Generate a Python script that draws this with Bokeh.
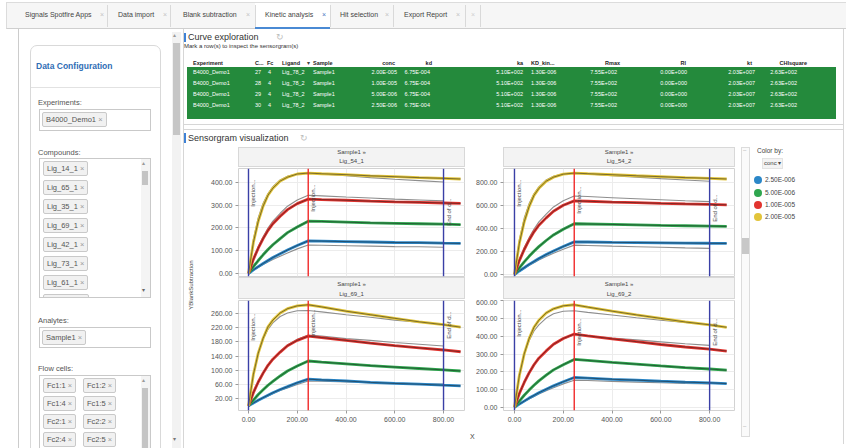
from math import pi
from bokeh.plotting import figure
from bokeh.layouts import row, column
from bokeh.models import Div, Span, Label, NumeralTickFormatter, FixedTicker, Range1d
from bokeh.embed import file_html
from bokeh.resources import INLINE

FONT = "Liberation Sans"

# ---------------- data ----------------
tab_names = ["Signals Spotfire Apps", "Data import", "Blank subtraction", "Kinetic analysis", "Hit selection", "Export Report"]
experiments = ["B4000_Demo1"]
compounds = ["Lig_14_1", "Lig_65_1", "Lig_35_1", "Lig_69_1", "Lig_42_1", "Lig_73_1", "Lig_61_1"]
analytes = ["Sample1"]
flow_cells = ["Fc1:1", "Fc1:2", "Fc1:4", "Fc1:5", "Fc2:1", "Fc2:2", "Fc2:4", "Fc2:5"]

table_experiment = ["B4000_Demo1", "B4000_Demo1", "B4000_Demo1", "B4000_Demo1"]
table_c = ["27", "28", "29", "30"]
table_fc = ["4", "4", "4", "4"]
table_ligand = ["Lig_78_2", "Lig_78_2", "Lig_78_2", "Lig_78_2"]
table_sample = ["Sample1", "Sample1", "Sample1", "Sample1"]
table_conc = ["2.00E-005", "1.00E-005", "5.00E-006", "2.50E-006"]
table_kd = ["6.75E-004"] * 4
table_ka = ["5.10E+002"] * 4
table_KD = ["1.30E-006"] * 4
table_rmax = ["7.55E+002"] * 4
table_rl = ["0.00E+000"] * 4
table_kt = ["2.03E+007"] * 4
table_chi = ["2.63E+002"] * 4

conc_labels = ["2.50E-006", "5.00E-006", "1.00E-005", "2.00E-005"]
conc_colors = ["#2b87c8", "#2fa64f", "#e2342f", "#e2c43a"]
panel_sample = "Sample1"
panel_ligands = ["Lig_54_1", "Lig_54_2", "Lig_69_1", "Lig_69_2"]

injection_start = 0
injection_end = 245
dissociation_end = 800
x_ticks = [0, 200, 400, 600, 800]

time_s = [0, 20, 40, 60, 80, 100, 130, 160, 200, 245, 300, 400, 500, 600, 700, 800, 870]

# responses (blue, green, red, yellow) and fitted curves (to 800 s)
lig54_1_resp = [
    [0, 16, 30, 44, 57, 70, 87, 103, 123, 143, 142, 140, 138, 136, 135, 133, 132],
    [0, 30, 57, 82, 105, 126, 153, 179, 204, 229, 228, 225, 222, 220, 218, 216, 214],
    [0, 62, 111, 153, 189, 218, 251, 280, 306, 326, 324, 321, 317, 314, 312, 309, 307],
    [0, 136, 229, 295, 343, 374, 405, 422, 436, 440, 437, 433, 428, 424, 420, 417, 414],
]
lig54_1_fit = [
    [0, 14, 26, 39, 50, 61, 76, 90, 108, 125, 124, 122, 120, 118, 117, 115],
    [0, 30, 58, 83, 106, 127, 155, 180, 206, 231, 229, 226, 223, 220, 217, 215],
    [0, 65, 117, 161, 199, 230, 264, 295, 322, 343, 340, 335, 331, 326, 322, 318],
    [0, 150, 245, 308, 350, 380, 410, 426, 437, 440, 436, 428, 420, 413, 407, 401],
]
lig54_2_resp = [
    [0, 31, 59, 88, 113, 139, 173, 204, 243, 283, 282, 279, 277, 275, 273, 271, 270],
    [0, 57, 110, 158, 202, 242, 295, 343, 392, 440, 438, 434, 430, 426, 423, 420, 417],
    [0, 121, 217, 300, 370, 427, 491, 549, 600, 638, 635, 628, 623, 617, 612, 608, 604],
    [0, 272, 457, 589, 686, 747, 809, 844, 870, 879, 874, 865, 856, 848, 840, 834, 828],
]
lig54_2_fit = [
    [0, 28, 54, 79, 102, 125, 156, 184, 219, 255, 252, 246, 241, 236, 231, 227],
    [0, 58, 111, 160, 205, 245, 298, 347, 396, 445, 442, 437, 432, 427, 422, 418],
    [0, 129, 232, 320, 395, 456, 524, 586, 640, 681, 676, 666, 657, 648, 639, 632],
    [0, 300, 490, 615, 700, 760, 820, 852, 874, 879, 871, 857, 844, 831, 819, 808],
]
lig69_1_resp = [
    [0, 8, 16, 23, 30, 37, 46, 54, 65, 75, 73, 70, 66, 63, 61, 58, 56],
    [0, 16, 32, 45, 58, 69, 84, 98, 112, 126, 123, 118, 113, 109, 105, 101, 98],
    [0, 37, 67, 92, 114, 131, 151, 169, 184, 196, 192, 184, 176, 169, 163, 157, 152],
    [0, 88, 148, 190, 222, 241, 261, 273, 281, 284, 278, 266, 256, 246, 236, 228, 221],
]
lig69_1_fit = [
    [0, 8, 15, 22, 28, 34, 43, 50, 60, 70, 69, 67, 65, 64, 62, 61],
    [0, 17, 32, 46, 58, 70, 85, 99, 113, 127, 124, 119, 114, 109, 104, 100],
    [0, 38, 68, 94, 115, 133, 153, 171, 187, 199, 196, 189, 184, 178, 173, 168],
    [0, 92, 150, 188, 215, 233, 251, 261, 267, 268, 264, 256, 249, 241, 235, 229],
]
lig69_2_resp = [
    [0, 18, 35, 52, 67, 82, 102, 121, 144, 168, 165, 158, 153, 147, 142, 138, 134],
    [0, 35, 68, 97, 124, 149, 181, 211, 240, 270, 264, 253, 243, 233, 224, 216, 209],
    [0, 78, 140, 194, 240, 277, 318, 355, 388, 413, 403, 386, 370, 354, 340, 328, 317],
    [0, 179, 301, 387, 451, 491, 532, 555, 572, 578, 565, 542, 521, 501, 481, 465, 451],
]
lig69_2_fit = [
    [0, 17, 32, 47, 61, 75, 93, 110, 132, 153, 151, 146, 142, 138, 134, 131],
    [0, 35, 68, 98, 125, 150, 182, 212, 242, 272, 265, 253, 242, 231, 222, 212],
    [0, 78, 139, 193, 238, 275, 316, 353, 385, 410, 403, 391, 380, 369, 358, 349],
    [0, 185, 300, 375, 430, 465, 503, 527, 541, 544, 535, 520, 505, 491, 478, 466],
]
lig54_1_yticks = [0, 100, 200, 300, 400]
lig54_2_yticks = [0, 200, 400, 600, 800]
lig69_1_yticks = [20, 60, 100, 140, 180, 220, 260]
lig69_2_yticks = [0, 100, 200, 300, 400, 500, 600]


# ---------------- html helpers ----------------
def B(x, y, w, h, style):
    return (f'<div style="position:absolute;left:{x}px;top:{y}px;width:{w}px;height:{h}px;'
            f'box-sizing:border-box;{style}"></div>')


def T(x, cy, s, size, color="#333", weight="normal", align="left", extra=""):
    if align == "left":
        pos = f"left:{x}px;"
    elif align == "right":
        pos = f"left:{x - 150}px;width:150px;text-align:right;"
    else:
        pos = f"left:{x - 75}px;width:150px;text-align:center;"
    return (f'<div style="position:absolute;{pos}top:{cy - size * 0.6:.1f}px;font-size:{size}px;'
            f'line-height:{size * 1.2:.1f}px;color:{color};font-weight:{weight};white-space:nowrap;{extra}">{s}</div>')


def chip(x, y, s, size=7.5):
    return (f'<div style="position:absolute;left:{x}px;top:{y}px;height:15px;box-sizing:border-box;padding:0 3px;'
            f'border:1px solid #c9c9c9;border-radius:2px;background:#f1f1f1;font-size:{size}px;line-height:13px;'
            f'color:#555;white-space:nowrap">{s} <span style="color:#9a9a9a">&#215;</span></div>')


def wrap(w, h, inner, bg="#ffffff"):
    return (f'<div style="position:relative;width:{w}px;height:{h}px;overflow:hidden;background:{bg};'
            f"font-family:'Liberation Sans',Arial,sans-serif\">{inner}</div>")


def make_div(w, h, parts, bg="#ffffff"):
    return Div(text=wrap(w, h, "".join(parts), bg), width=w, height=h, margin=0)


# ---------------- tab bar (846 x 29) ----------------
tp = [B(6, 2, 840, 27, "background:#f6f6f6;border-top:1px solid #dcdcdc;border-left:1px solid #dcdcdc;"
                       "border-bottom:1px solid #cfcfcf"),
      B(255, 3, 75, 26, "background:#ffffff;border-bottom:2px solid #4a8ad4")]
tab_text_x = [25, 118, 183, 265, 340, 404]
tab_close_x = [100, 163, 246, 322, 385, 456]
for sx in [107, 170, 255, 330, 393, 465, 480]:
    tp.append(B(sx, 5, 1, 22, "background:#d9d9d9"))
for i, name in enumerate(tab_names):
    tp.append(T(tab_text_x[i], 15, name, 7, "#444"))
    tp.append(T(tab_close_x[i], 15, "&#215;", 7, "#4a78c2" if i == 3 else "#c4c4c4"))
tp.append(T(471, 15, "&#215;", 7, "#d0d0d0"))
tabs_div = make_div(846, 29, tp)

# ---------------- left configuration panel (183 x 419) ----------------
lp = [B(18, 0, 1, 419, "background:#cccccc"),
      B(30, 16, 131, 430, "border:1px solid #d9d9d9;border-radius:7px 7px 0 0"),
      T(36, 37, "Data Configuration", 8.5, "#2f6db5", "bold"),
      B(31, 58, 129, 1, "background:#e2e2e2"),
      T(38, 73, "Experiments:", 7.5, "#555"),
      B(39, 80, 112, 22, "border:1px solid #c9c9c9"),
      chip(42, 83, experiments[0]),
      T(38, 123, "Compounds:", 7.5, "#555")]
comp_inner = "".join(chip(3, 2 + 19 * i, c) for i, c in enumerate(compounds))
comp_inner += B(3, 2 + 19 * 7, 46, 15, "border:1px solid #c9c9c9;border-radius:2px;background:#f1f1f1")
comp_inner += B(101, 0, 9, 138, "background:#f4f4f4")
comp_inner += T(102, 5, "&#9652;", 6, "#999")
comp_inner += B(102, 12, 6, 14, "background:#c4c4c4")
comp_inner += T(102, 132, "&#9662;", 6, "#666")
lp.append('<div style="position:absolute;left:39px;top:129px;width:112px;height:140px;border:1px solid #c9c9c9;'
          f'box-sizing:border-box;overflow:hidden">{comp_inner}</div>')
lp.append(T(38, 291, "Analytes:", 7.5, "#555"))
lp.append(B(39, 298, 112, 21, "border:1px solid #c9c9c9"))
lp.append(chip(42, 301, analytes[0]))
lp.append(T(38, 339, "Flow cells:", 7.5, "#555"))
fc_inner = "".join(chip(3 + 40 * (i % 2), 2 + 18 * (i // 2), f) for i, f in enumerate(flow_cells))
fc_inner += B(101, 0, 9, 80, "background:#f4f4f4")
fc_inner += T(102, 5, "&#9652;", 6, "#999")
fc_inner += B(102, 12, 6, 70, "background:#c4c4c4")
lp.append('<div style="position:absolute;left:39px;top:346px;width:112px;height:80px;border:1px solid #c9c9c9;'
          f'box-sizing:border-box;overflow:hidden">{fc_inner}</div>')
lp.append(B(172, 3, 9, 416, "background:#f2f2f2"))
lp.append(T(173, 7, "&#9652;", 6, "#999"))
lp.append(B(173, 14, 7, 92, "background:#c6c6c6"))
lp.append(T(173, 411, "&#9662;", 6, "#777"))
left_div = make_div(183, 419, lp)

# ---------------- curve exploration table (663 x 101) ----------------
cp = [B(0, 0, 1, 101, "background:#d6d6d6"),
      B(660, 0, 1, 101, "background:#d6d6d6"),
      B(0, 95, 661, 1, "background:#d6d6d6"),
      B(0, 100, 661, 1, "background:#d6d6d6"),
      B(1, 4, 2, 9, "background:#3f82d6"),
      T(5, 8, "Curve exploration", 9, "#333"),
      T(93, 8, "&#8635;", 9, "#bdbdbd"),
      T(1, 18, "Mark a row(s) to inspect the sensorgram(s)", 6, "#333")]
# (header, values, header x, header align, value x, value align)
table_cols = [
    ("Experiment", table_experiment, 10, "left", 10, "left"),
    ("C...", table_c, 72, "left", 78, "right"),
    ("Fc", table_fc, 84, "left", 85, "left"),
    ("Ligand", table_ligand, 99, "left", 99, "left"),
    ("Sample", table_sample, 130, "left", 130, "left"),
    ("conc", table_conc, 212, "right", 214, "right"),
    ("kd", table_kd, 249, "right", 247, "right"),
    ("ka", table_ka, 340, "right", 340, "right"),
    ("KD_kin...", table_KD, 348, "left", 348, "left"),
    ("Rmax", table_rmax, 437, "right", 434, "right"),
    ("Rl", table_rl, 503, "right", 504, "right"),
    ("kt", table_kt, 569, "right", 572, "right"),
    ("CHIsquare", table_chi, 624, "right", 614, "right"),
]
for hdr, vals, hx, ha, vx, va in table_cols:
    cp.append(T(hx, 34, hdr, 5.5, "#222", "bold", ha))
cp.append(T(124, 34, "&#9662;", 5.5, "#444"))
rows_html = ""
for hdr, vals, hx, ha, vx, va in table_cols:
    for r, v in enumerate(vals):
        rows_html += T(vx - 4, 5.5 + 11 * r, v, 5.5, "#ffffff", "normal", va)
cp.append('<div style="position:absolute;left:4px;top:38px;width:649px;height:52px;background:#248a3c;'
          f'overflow:hidden">{rows_html}</div>')
table_div = make_div(663, 101, cp)

# ---------------- sensorgram header (663 x 17) ----------------
sp = [B(0, 0, 1, 17, "background:#d6d6d6"),
      B(660, 0, 1, 17, "background:#d6d6d6"),
      B(1, 3, 2, 10, "background:#3f82d6"),
      T(5, 8, "Sensorgram visualization", 9, "#333"),
      T(117, 8, "&#8635;", 9, "#bdbdbd")]
sens_div = make_div(663, 17, sp)

# ---------------- y label gutter (15 x 301) ----------------
yl = [B(0, 0, 1, 301, "background:#d6d6d6"),
      '<div style="position:absolute;left:8px;top:138px;transform:translate(-50%,-50%) rotate(-90deg);'
      'white-space:nowrap;font-size:6px;color:#444">YBlankSubtraction</div>']
ylab_div = make_div(15, 301, yl)

# ---------------- legend (111 x 301) ----------------
gp = [B(6, 0, 9, 290, "border:1px solid #dcdcdc;background:#fafafa"),
      T(8, 4, "&#8211;", 6, "#aaa"),
      B(7, 91, 7, 16, "background:#c8c8c8"),
      T(8, 280, "&#8211;", 6, "#aaa"),
      B(108, 0, 1, 297, "background:#d6d6d6"),
      T(22, 4, "Color by:", 6.5, "#444"),
      B(27, 11, 21, 11, "background:#f3f3f3;border:1px solid #e3e3e3"),
      T(29, 16.5, "conc &#9662;", 6, "#444")]
legend_y = [33, 46, 58, 70]
for k, lab in enumerate(conc_labels):
    gp.append(f'<div style="position:absolute;left:19px;top:{legend_y[k] - 4}px;width:8px;height:8px;'
              f'border-radius:50%;background:{conc_colors[k]}"></div>')
    gp.append(T(30, legend_y[k], lab, 6.5, "#444"))
legend_div = make_div(111, 301, gp)


# ---------------- strips ----------------
def strip_div(width, offset, height, ligand, c1, c2):
    parts = [B(offset, 0, width - offset, height, "border:1px solid #d8d8d8;background:#f3f3f3"),
             T(offset + (width - offset) / 2, c1, f"{panel_sample} &#187;", 6, "#444", "normal", "center"),
             T(offset + (width - offset) / 2, c2, ligand, 6, "#444", "normal", "center")]
    return make_div(width, height, parts)


# ---------------- sensorgram panels ----------------
def sensor_panel(resp, fit, y_range, y_ticks, x_range, width, height, left_border, show_x, drops):
    p = figure(width=width, height=height, x_range=Range1d(*x_range), y_range=Range1d(*y_range),
               output_backend="svg", toolbar_location=None,
               min_border_left=left_border, min_border_right=1, min_border_top=1,
               min_border_bottom=20 if show_x else 1)
    p.outline_line_color = "#d2d2d2"
    p.border_fill_color = "#ffffff"
    p.xaxis.ticker = FixedTicker(ticks=x_ticks)
    p.yaxis.ticker = FixedTicker(ticks=y_ticks)
    p.xgrid.ticker = FixedTicker(ticks=x_ticks)
    p.ygrid.ticker = FixedTicker(ticks=y_ticks)
    p.grid.grid_line_color = "#ececec"
    for ax in p.axis:
        ax.axis_line_color = None
        ax.major_tick_line_color = "#9a9a9a"
        ax.major_tick_out = 3
        ax.major_tick_in = 0
        ax.minor_tick_line_color = None
        ax.major_label_text_font_size = "7px"
        ax.major_label_text_color = "#555555"
        ax.major_label_text_font = FONT
        ax.major_label_standoff = 3
        ax.formatter = NumeralTickFormatter(format="0.00")
    if not show_x:
        p.xaxis.visible = False
    for k in range(4):
        p.line(time_s[:len(fit[k])], fit[k], line_color="#8e8e8e", line_width=1.1)
    for k in range(4):
        p.line(time_s, resp[k], line_color=conc_colors[k], line_width=2.8)
        p.line(time_s, resp[k], line_color="#1b1b1b", line_width=0.7, line_alpha=0.75)
    for loc, col in [(injection_start, "#3a3fa6"), (injection_end, "#f02a2a"), (dissociation_end, "#3a3fa6")]:
        p.add_layout(Span(location=loc, dimension="height", line_color=col, line_width=1.4))
    for (loc, txt), d in zip([(injection_start, "Injection..."), (injection_end, "Injection..."),
                              (dissociation_end, "End of d...")], drops):
        p.add_layout(Label(x=loc, y=y_range[1], x_offset=2, y_offset=-d, angle=pi / 2, text=txt,
                           text_align="right", text_baseline="top", text_font_size="6px",
                           text_color="#444444", text_font=FONT))
    return p


left_x = (-41, 886)
right_x = (-45, 902)
p_tl = sensor_panel(lig54_1_resp, lig54_1_fit, (-13, 460), lig54_1_yticks, left_x, 267, 110, 40, False, (11, 16, 30))
p_tr = sensor_panel(lig54_2_resp, lig54_2_fit, (-17, 919), lig54_2_yticks, right_x, 270, 110, 38, False, (11, 18, 26))
p_bl = sensor_panel(lig69_1_resp, lig69_1_fit, (-13, 296), lig69_1_yticks, left_x, 267, 131, 40, True, (13, 9, 11))
p_br = sensor_panel(lig69_2_resp, lig69_2_fit, (-18, 602), lig69_2_yticks, right_x, 270, 131, 38, True, (9, 18, 18))

x_div = make_div(537, 18, [T(272, 7, "X", 7, "#444")])

charts_col = column(
    row(strip_div(267, 40, 20, panel_ligands[0], 6, 15), strip_div(270, 38, 20, panel_ligands[1], 6, 15)),
    row(p_tl, p_tr),
    row(strip_div(267, 40, 22, panel_ligands[2], 8, 18), strip_div(270, 38, 22, panel_ligands[3], 8, 18)),
    row(p_bl, p_br),
    x_div,
)

right_col = column(table_div, sens_div, row(ylab_div, charts_col, legend_div))
layout = column(tabs_div, row(left_div, right_col))

open("out.html", "w", encoding="utf-8").write(file_html(layout, INLINE))
